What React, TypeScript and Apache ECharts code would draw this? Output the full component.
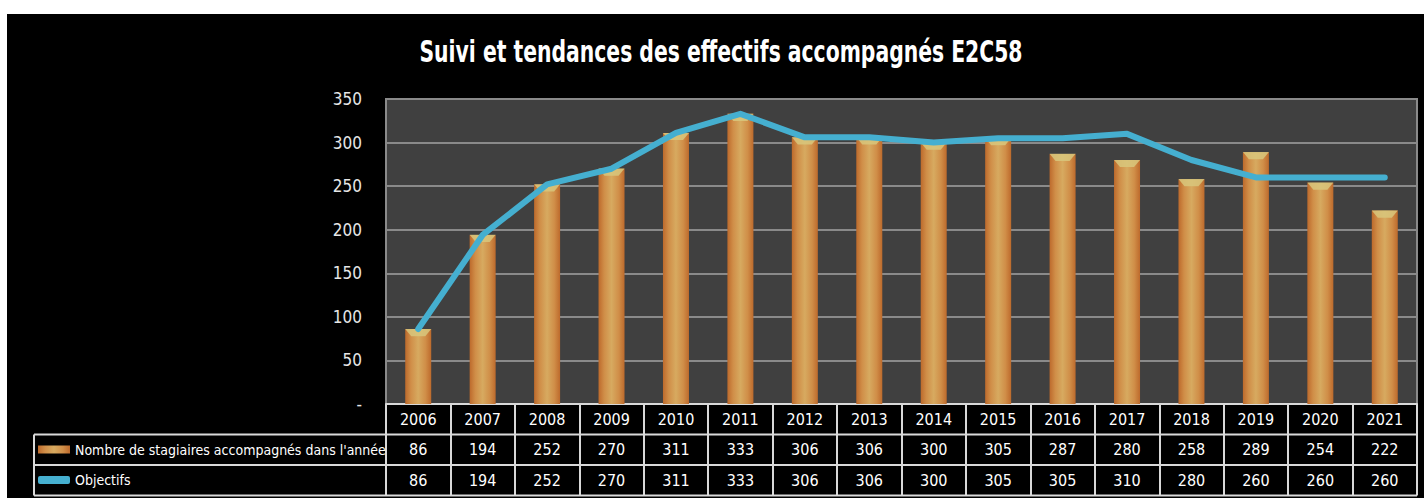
import React, { useEffect, useRef } from "react";
import * as echarts from "echarts";

const years = ["2006","2007","2008","2009","2010","2011","2012","2013","2014","2015","2016","2017","2018","2019","2020","2021"];
const stagiaires = [86,194,252,270,311,333,306,306,300,305,287,280,258,289,254,222];
const objectifs = [86,194,252,270,311,333,306,306,300,305,305,310,280,260,260,260];
const yTicks = [0, 50, 100, 150, 200, 250, 300, 350];

const BAR_NAME = "Nombre de stagiaires accompagnés dans l'année";
const LINE_NAME = "Objectifs";
const TITLE = "Suivi et tendances des effectifs accompagnés E2C58";

const FONT = "'Liberation Sans Narrow', 'DejaVu Sans Condensed', 'Open Sans', sans-serif";

export default function App() {
  const ref = useRef<HTMLDivElement>(null);
  useEffect(() => {
    if (!ref.current) return;
    const chart = echarts.init(ref.current, null, { renderer: "svg" });
    const W = 1417;
    const gridLeft = 379;
    const gridRight = 7;
    const gridTop = 85;
    const gridBottomY = 390;
    const rowH = 30.5;
    const tableLeft = 27;
    const barGrad = new echarts.graphic.LinearGradient(0, 0, 1, 0, [
      { offset: 0, color: "#bd6a2c" },
      { offset: 0.22, color: "#d08e48" },
      { offset: 0.5, color: "#d7aa60" },
      { offset: 0.78, color: "#d08e48" },
      { offset: 1, color: "#bd6a2c" },
    ]);
    const lineColor = "#45afd0";
    const tableColor = "#d9d9d9";
    const hLines = [1, 2, 3].map((i) => ({
      type: "line",
      shape: { x1: tableLeft, y1: gridBottomY + rowH * i, x2: W - gridRight, y2: gridBottomY + rowH * i },
      style: { stroke: tableColor, lineWidth: 2 },
      z: 10,
    }));
    const option: any = {
      animation: false,
      backgroundColor: "#000000",
      textStyle: { fontFamily: FONT },
      legend: {
        orient: "vertical",
        left: 31,
        top: gridBottomY + rowH + 5,
        itemGap: 10.5,
        itemWidth: 32,
        itemHeight: 8,
        padding: 0,
        textStyle: { color: "#ffffff", fontSize: 14, lineHeight: 20, fontFamily: FONT },
        data: [
          { name: BAR_NAME, icon: "rect" },
          { name: LINE_NAME, icon: "roundRect", itemStyle: { color: lineColor } },
        ],
      },
      grid: {
        left: gridLeft,
        right: gridRight,
        top: gridTop,
        bottom: 484 - gridBottomY,
        show: true,
        backgroundColor: "#404040",
        borderColor: "#8a8a8a",
        borderWidth: 2,
      },
      xAxis: {
        type: "category",
        data: years,
        axisLine: { show: true, lineStyle: { color: tableColor, width: 2 } },
        axisTick: { show: true, length: rowH * 3, interval: 0, lineStyle: { color: tableColor, width: 2 } },
        axisLabel: {
          interval: 0,
          margin: 0,
          formatter: (v: string, i: number) => `{y|${v}}\n{a|${stagiaires[i]}}\n{b|${objectifs[i]}}`,
          rich: {
            y: { color: "#ffffff", fontSize: 16, lineHeight: rowH, fontFamily: FONT, align: "center" },
            a: { color: "#ffffff", fontSize: 16, lineHeight: rowH, fontFamily: FONT, align: "center" },
            b: { color: "#ffffff", fontSize: 16, lineHeight: rowH, fontFamily: FONT, align: "center" },
          },
        },
      },
      yAxis: {
        type: "value",
        min: yTicks[0],
        max: yTicks[yTicks.length - 1],
        interval: 50,
        axisLine: { show: false },
        axisTick: { show: false },
        splitLine: { show: true, lineStyle: { color: "#8a8a8a", width: 2 } },
        axisLabel: {
          color: "#e6e6e6",
          fontSize: 17,
          margin: 24,
          fontFamily: FONT,
          formatter: (v: number) => (v === 0 ? "-" : String(v)),
        },
      },
      graphic: [
        {
          type: "text",
          x: 714,
          y: 37,
          scaleX: 0.73,
          z: 20,
          style: {
            text: TITLE,
            fill: "#ffffff",
            fontSize: 31,
            fontWeight: "bold",
            fontFamily: FONT,
            align: "center",
            verticalAlign: "middle",
          },
        },
        ...hLines,
        {
          type: "line",
          shape: { x1: tableLeft, y1: gridBottomY + rowH, x2: tableLeft, y2: gridBottomY + rowH * 3 },
          style: { stroke: tableColor, lineWidth: 2 },
          z: 10,
        },
      ],
      series: [
        {
          name: BAR_NAME,
          type: "bar",
          data: stagiaires,
          barWidth: 26,
          itemStyle: { color: barGrad },
          z: 2,
        },
        {
          name: "cap",
          type: "pictorialBar",
          data: stagiaires,
          symbol: "path://M0,0 L26,0 L20,7 L6,7 Z",
          symbolSize: [26, 7],
          symbolPosition: "end",
          itemStyle: { color: "#d8c77c", opacity: 0.85 },
          z: 3,
          silent: true,
        },
        {
          name: LINE_NAME,
          type: "line",
          data: objectifs,
          symbol: "none",
          lineStyle: { color: lineColor, width: 6, cap: "round", join: "round" },
          itemStyle: { color: lineColor },
          z: 5,
        },
      ],
    };
    chart.setOption(option);
    return () => chart.dispose();
  }, []);
  return (
    <div
      ref={ref}
      style={{ position: "absolute", left: 7, top: 14, width: 1417, height: 484, background: "#000" }}
    />
  );
}
